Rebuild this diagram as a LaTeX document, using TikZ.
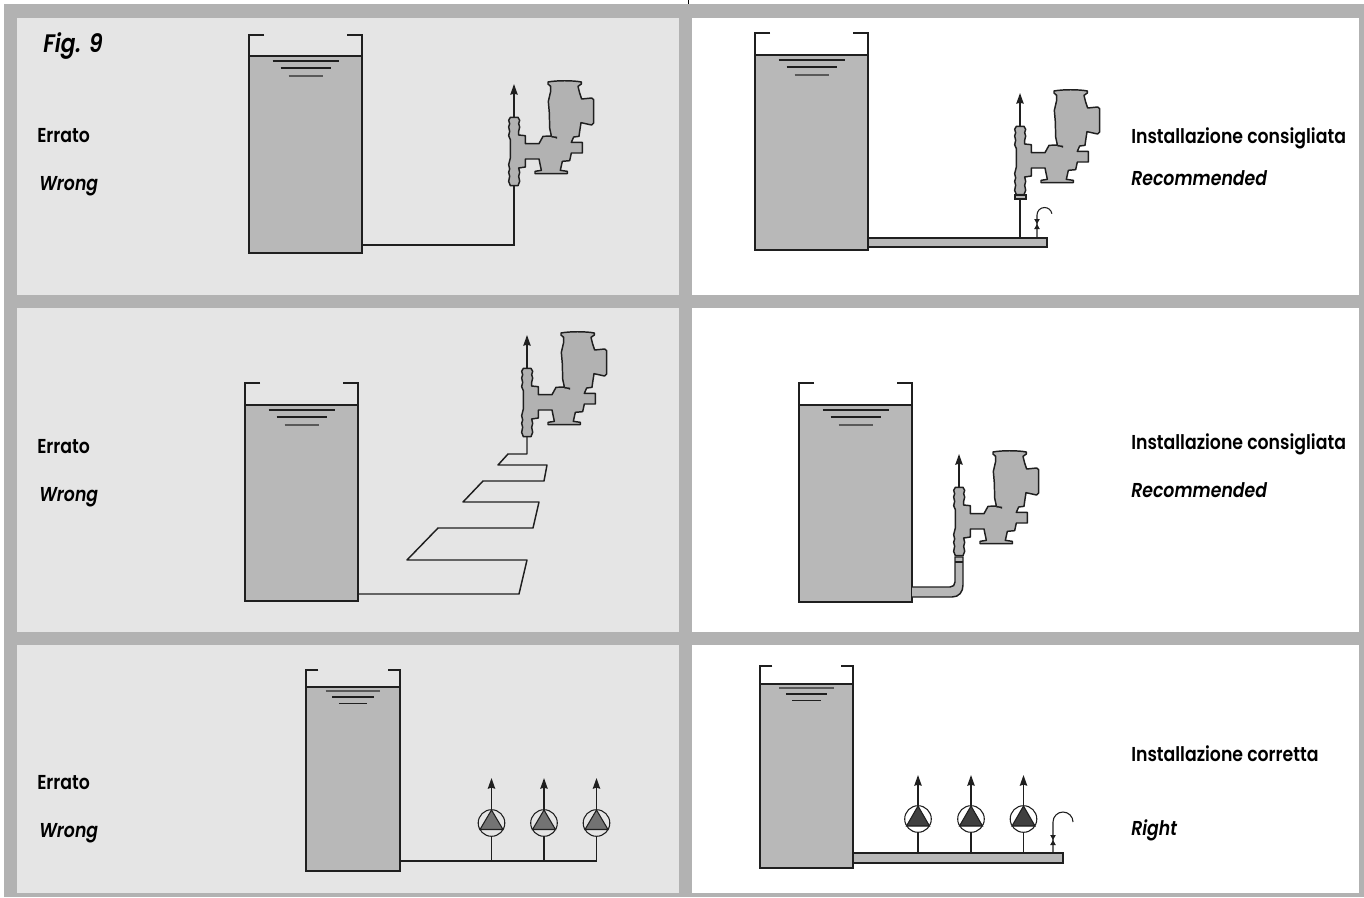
\documentclass[tikz,border=0pt]{standalone}
\usepackage{fontspec}
\setmainfont[FakeStretch=0.86,ItalicFont={Poppins SemiBold Italic}]{Poppins SemiBold}
\usetikzlibrary{arrows.meta}

\begin{document}
\begin{tikzpicture}[x=0.75pt,y=-0.75pt,
    linea/.style={black!88, line width=1.1pt},
    label/.style={anchor=base west, inner sep=0pt, font=\fontsize{15.1}{18}\selectfont},
    labelit/.style={label, font=\fontsize{15.1}{18}\selectfont\itshape},
    tubo/.style={linea, fill=black!28},
    freccia/.style={linea, -{Stealth[length=8pt,width=5.5pt,inset=0.8pt]}},
    pics/pompa/.style={code={
        \begin{scope}[scale=1/3,shift={(-133,-103)}]
        \draw[freccia] (133,205) -- (133,103);
        \draw[linea, fill=black!30, line join=round]
            (122,203) -- (145,203) -- (150,212) -- (147,222) -- (150,232) -- (147,245) -- (147,256)
            -- (167,258) -- (167,282) -- (208,282) -- (220,260) -- (245,259) -- (240,235)
            -- (239,190) -- (236,155) -- (243,125) -- (243,110) -- (235,103) -- (235,97)
            .. controls (260,92) and (310,92) .. (335,97) -- (335,103) -- (325,110) -- (330,130)
            -- (336,148) -- (366,145) -- (372,150) -- (372,220) -- (366,226) -- (334,219)
            -- (330,245) -- (328,260) -- (312,262) -- (305,278) -- (338,278) -- (338,310)
            -- (305,310) -- (300,333) -- (278,335) -- (272,362) -- (293,365) -- (293,372)
            -- (196,372) -- (196,365) -- (215,362) -- (208,328) -- (167,328) -- (167,352)
            -- (147,355) -- (150,368) -- (147,380) -- (150,395) -- (145,408) -- (122,408)
            -- (117,395) -- (120,380) -- (117,368) -- (120,358) -- (117,345) -- (122,325)
            -- (122,270) -- (117,258) -- (120,245) -- (117,232) -- (120,222) -- (117,212) -- cycle;
        \draw[linea] (245,261) -- (260,263) -- (260,267);
        \end{scope}
    }},
    pics/rubinetto/.style={code={
        \fill[black!88] (-2.8,-5) -- (2.8,-5) -- (-2.8,5) -- (2.8,5) -- cycle;
    }}
]
    \useasboundingbox (0,0) rectangle (1364,897);

    % Frame and panels
    \fill[black!30] (4,4) rectangle (1364,897);
    \draw[black, line width=0.5pt] (688,0) -- (688,4);
    \foreach \ya/\yb in {18/295, 308/632, 645/893} {
        \fill[black!10] (17,\ya) rectangle (679,\yb);
        \fill[white] (692,\ya) rectangle (1359,\yb);
    }

    % Tanks: left, right, rim, level, bottom, size of the surface lines, widths, tints
    \foreach \xa/\xb/\yr/\yl/\yb/\k/\wa/\wc/\ta/\tc in {249/362/35/56/253/1/0.9/1.3/88/65, 755/868/33/55/250/1/0.9/1.3/88/65,
        245/358/383/405/601/1/0.9/1.3/88/65, 799/912/383/405/602/1/0.9/1.3/88/65,
        306/400/670/687/871/0.83/1.3/0.9/65/88, 760/853/666/684/868/0.83/1.3/0.9/65/88} {
        \pgfmathsetmacro{\xm}{(\xa+\xb)/2}
        \fill[black!28] (\xa,\yl) rectangle (\xb,\yb);
        \draw[linea] (\xa,\yl) -- (\xb,\yl);
        \draw[linea] (\xa+15*\k,\yr) -- (\xa,\yr) -- (\xa,\yb) -- (\xb,\yb) -- (\xb,\yr) -- (\xb-15*\k,\yr);
        \draw[black!\ta, line width=\wa pt] (\xm-33*\k,\yl+5*\k) -- (\xm+33*\k,\yl+5*\k);
        \draw[linea, line width=0.9pt] (\xm-25*\k,\yl+12*\k) -- (\xm+25*\k,\yl+12*\k);
        \draw[black!\tc, line width=\wc pt] (\xm-17*\k,\yl+20*\k) -- (\xm+17*\k,\yl+20*\k);
    }

    % Row 1, wrong
    \draw[linea] (362,245) -- (514,245) -- (514,186);
    \pic at (514,84) {pompa};
    % Row 1, recommended
    \draw[linea] (1020,238) -- (1020,196);
    \draw[tubo] (868,238) rectangle (1047,247);
    \pic at (1020,93) {pompa};
    \draw[linea, fill=black!28] (1015,195) rectangle (1026,199);
    \draw[linea, line width=0.8pt] (1037,238) -- (1037,215) arc[start angle=180, end angle=350, radius=7.5];
    \pic at (1037,224) {rubinetto};

    % Row 2, wrong
    \draw[linea, line join=round] (358,594) -- (519,594) -- (527,560) -- (407,560) -- (438,528) -- (533,528)
        -- (539,502) -- (463,502) -- (483,481) -- (544,481) -- (547,465) -- (498,465) -- (508,454)
        -- (527,454) -- (527,437);
    \pic at (527,335) {pompa};
    % Row 2, recommended
    \draw[linea, fill=black!28] (912,587) -- (950,587) .. controls (953,587) and (955,585) .. (955,582)
        -- (955,557) -- (963,557) -- (963,585) .. controls (963,592) and (959,597) .. (952,597) -- (912,597);
    \draw[linea] (955,562) -- (963,562);
    \pic at (959,454) {pompa};

    % Row 3, wrong
    \draw[linea] (400,861) -- (596.5,861);
    \foreach \x in {491.5,544,596.5} {
        \draw[linea] (\x,861) -- (\x,836);
        \draw[freccia] (\x,810) -- (\x,778);
        \draw[linea, line width=0.8pt] (\x,823) circle (13.3);
        \draw[linea, fill=black!55, line width=0.8pt] (\x,810) -- (\x+11.5,829.5) -- (\x-11.5,829.5) -- cycle;
    }
    % Row 3, right
    \foreach \x in {918,971,1023.5} {
        \draw[linea] (\x,853) -- (\x,832);
        \draw[freccia] (\x,806) -- (\x,775);
        \draw[linea, fill=white, line width=0.8pt] (\x,819) circle (13.3);
        \draw[linea, fill=black!75, line width=0.8pt] (\x,806) -- (\x+11.5,826) -- (\x-11.5,826) -- cycle;
    }
    \draw[tubo] (853,853) rectangle (1063,863);
    \draw[linea, line width=0.8pt] (1053,853) -- (1053,822) arc[start angle=180, end angle=360, radius=10];
    \pic at (1053,840) {rubinetto};

    % Labels
    \node[labelit, font=\fontsize{19}{22}\selectfont\itshape] (fig) at (43,52) {Fig. 9};
    \node[label] (erratoa) at (37,142) {Errato};
    \node[labelit] (wronga) at (39,190) {Wrong};
    \node[label] (erratob) at (37,453) {Errato};
    \node[labelit] (wrongb) at (39,501) {Wrong};
    \node[label] (erratoc) at (37,789) {Errato};
    \node[labelit] (wrongc) at (39,837) {Wrong};
    \node[label] (consa) at (1131,143) {Installazione consigliata};
    \node[labelit] (recoa) at (1131,185) {Recommended};
    \node[label] (consb) at (1131,449) {Installazione consigliata};
    \node[labelit] (recob) at (1131,497) {Recommended};
    \node[label] (corr) at (1131,761) {Installazione corretta};
    \node[labelit] (right) at (1131,835) {Right};
\end{tikzpicture}
\end{document}
